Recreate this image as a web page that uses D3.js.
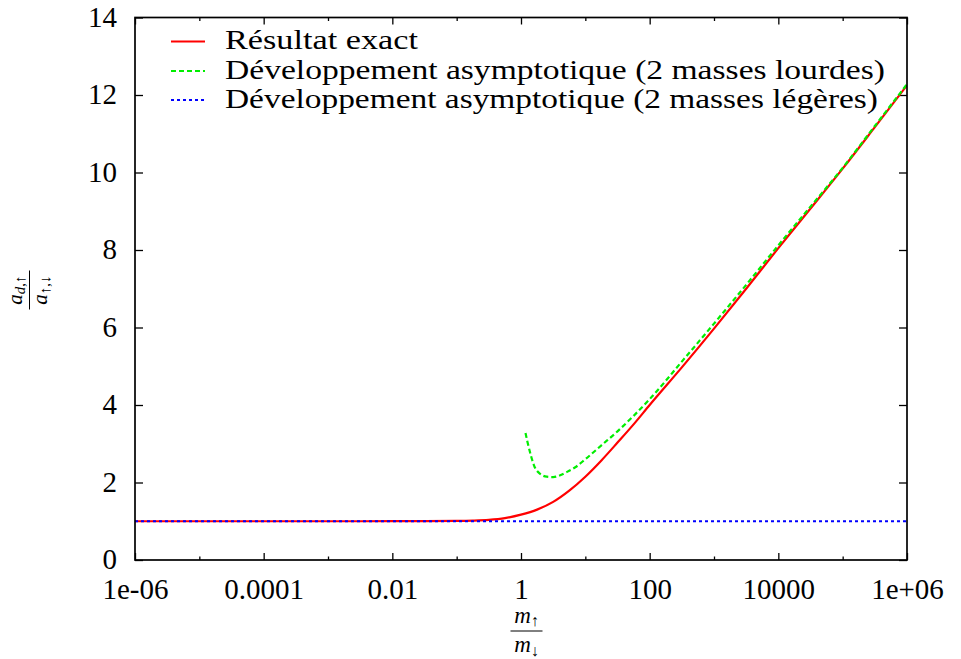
<!DOCTYPE html>
<html>
<head>
<meta charset="utf-8">
<script src="https://cdn.jsdelivr.net/npm/d3@7/dist/d3.min.js"></script>
<style>
  html, body { margin: 0; padding: 0; background: #fff; }
  svg { display: block; }
</style>
</head>
<body>
<svg id="chart" width="961" height="659"></svg>
<script>
// ---- data ----
const xMajorTicks = [1e-6, 1e-4, 1e-2, 1, 1e2, 1e4, 1e6];
const xTickLabels = ["1e-06", "0.0001", "0.01", "1", "100", "10000", "1e+06"];
const xMinorTicks = [1e-5, 1e-3, 1e-1, 1e1, 1e3, 1e5];
const yTicks = [0, 2, 4, 6, 8, 10, 12, 14];

const seriesNames = [
  "Résultat exact",
  "Développement asymptotique (2 masses lourdes)",
  "Développement asymptotique (2 masses légères)"
];

// log10 of mass ratio, and values
const exactLog = [-6, -5, -4, -3, -2, -1.5, -1, -0.75, -0.5, -0.25, 0, 0.25, 0.5, 0.75, 1, 1.25, 1.5, 1.75, 2, 2.5, 3, 3.5, 4, 4.5, 5, 5.5, 6];
const exactVal = [1, 1, 1, 1, 1.001, 1.003, 1.008, 1.016, 1.035, 1.08, 1.17, 1.3, 1.5, 1.79, 2.15, 2.57, 3.03, 3.5, 4.0, 4.97, 5.97, 7.0, 8.05, 9.07, 10.1, 11.17, 12.25];

const heavyLog = [0.07, 0.1, 0.15, 0.2, 0.3, 0.4, 0.5, 0.6, 0.7, 0.85, 1, 1.25, 1.5, 1.75, 2, 2.5, 3, 3.5, 4, 4.5, 5, 5.5, 6];
const heavyVal = [3.28, 3.05, 2.72, 2.45, 2.22, 2.15, 2.14, 2.18, 2.26, 2.4, 2.6, 2.96, 3.32, 3.72, 4.15, 5.12, 6.1, 7.1, 8.12, 9.12, 10.12, 11.2, 12.28];

const lightLog = [-6, -3, 0, 3, 6];
const lightVal = [1, 1, 1, 1, 1];

// ---- pick an installed serif font ----
const svg = d3.select("#chart");
function pickFont() {
  const cands = ["Liberation Serif", "DejaVu Serif", "Tinos", "Noto Serif", "Times New Roman", "FreeSerif", "Nimbus Roman", "Times"];
  const probe = svg.append("text").attr("x", -1000).attr("y", -1000).attr("font-size", 40)
    .text("Résultat exact mmmWWWiii 0123");
  probe.attr("font-family", "monospace");
  const base = probe.node().getComputedTextLength();
  let found = null;
  for (const c of cands) {
    probe.attr("font-family", `"${c}", monospace`);
    if (Math.abs(probe.node().getComputedTextLength() - base) > 0.5) { found = c; break; }
  }
  probe.remove();
  return found ? `"${found}", serif` : "serif";
}
const FONT = pickFont();

// ---- layout ----
const L = 135, R = 907, T = 17.5, B = 560;

const x = d3.scaleLog().domain([1e-6, 1e6]).range([L, R]);
const y = d3.scaleLinear().domain([0, 14]).range([B, T]);

const toPts = (lg, vals) => lg.map((l, i) => ({ r: Math.pow(10, l), v: vals[i] }));

svg.append("defs").append("clipPath").attr("id", "clip")
  .append("rect").attr("x", L).attr("y", T).attr("width", R - L).attr("height", B - T);

// ---- axes (inward ticks on all sides) ----
const fs = 30;
function styleAxis(g) {
  g.select(".domain").remove();
  g.attr("font-family", FONT);
  g.selectAll("line").attr("stroke", "#000").attr("stroke-width", 1.3);
}
const gxB = svg.append("g").attr("transform", `translate(0,${B})`)
  .call(d3.axisBottom(x).tickValues(xMajorTicks).tickSizeInner(-7).tickSizeOuter(0)
    .tickFormat((d, i) => xTickLabels[i]));
styleAxis(gxB);
gxB.selectAll("text").attr("y", 39).attr("dy", null).attr("font-size", 29).attr("font-family", FONT);

const gxBm = svg.append("g").attr("transform", `translate(0,${B})`)
  .call(d3.axisBottom(x).tickValues(xMinorTicks).tickSizeInner(-3.5).tickSizeOuter(0).tickFormat(""));
styleAxis(gxBm);

const gxT = svg.append("g").attr("transform", `translate(0,${T})`)
  .call(d3.axisTop(x).tickValues(xMajorTicks).tickSizeInner(-7).tickSizeOuter(0).tickFormat(""));
styleAxis(gxT);
const gxTm = svg.append("g").attr("transform", `translate(0,${T})`)
  .call(d3.axisTop(x).tickValues(xMinorTicks).tickSizeInner(-3.5).tickSizeOuter(0).tickFormat(""));
styleAxis(gxTm);

const gyL = svg.append("g").attr("transform", `translate(${L},0)`)
  .call(d3.axisLeft(y).tickValues(yTicks).tickSizeInner(-8).tickSizeOuter(0).tickFormat(d3.format("d")));
styleAxis(gyL);
gyL.selectAll("text").attr("x", -18).attr("dy", "0.3em").attr("font-size", 29).attr("font-family", FONT);

const gyR = svg.append("g").attr("transform", `translate(${R},0)`)
  .call(d3.axisRight(y).tickValues(yTicks).tickSizeInner(-8).tickSizeOuter(0).tickFormat(""));
styleAxis(gyR);

// ---- lines ----
const line = d3.line().x(d => x(d.r)).y(d => y(d.v)).curve(d3.curveMonotoneX);
const plot = svg.append("g").attr("clip-path", "url(#clip)");

const styles = [
  { color: "#ff0000", dash: null },
  { color: "#00ee00", dash: "5,3" },
  { color: "#0000ff", dash: "3,3" }
];
const data = [toPts(exactLog, exactVal), toPts(heavyLog, heavyVal), toPts(lightLog, lightVal)];

[0, 1, 2].forEach(i => {
  plot.append("path").datum(data[i])
    .attr("d", line)
    .attr("fill", "none")
    .attr("stroke", styles[i].color)
    .attr("stroke-width", 2.2)
    .attr("stroke-dasharray", styles[i].dash);
});

// ---- frame ----
svg.append("rect").attr("x", L).attr("y", T).attr("width", R - L).attr("height", B - T)
  .attr("fill", "none").attr("stroke", "#000").attr("stroke-width", 1.7);

// ---- legend ----
const legendBase = [49, 78.5, 107.5];
const legendWidths = [193, 660, 653];
seriesNames.forEach((name, i) => {
  const by = legendBase[i];
  svg.append("line").attr("x1", 171).attr("x2", 205).attr("y1", by - 7.5).attr("y2", by - 7.5)
    .attr("stroke", styles[i].color).attr("stroke-width", 2.2)
    .attr("stroke-dasharray", styles[i].dash);
  svg.append("text").attr("x", 225).attr("y", by).attr("font-size", 28).attr("font-family", FONT)
    .attr("textLength", legendWidths[i]).attr("lengthAdjust", "spacingAndGlyphs")
    .text(name);
});

// ---- axis labels (fractions) ----
const gx = svg.append("g").attr("transform", "translate(526.5,631)").attr("font-family", FONT);
(function () {
  const n = gx.append("text").attr("text-anchor", "middle").attr("y", -8);
  n.append("tspan").attr("font-style", "italic").attr("font-size", 23).text("m");
  n.append("tspan").attr("font-size", 16).attr("dy", 3).text("↑");
  gx.append("line").attr("x1", -16).attr("x2", 16).attr("y1", 0).attr("y2", 0)
    .attr("stroke", "#000").attr("stroke-width", 1);
  const d = gx.append("text").attr("text-anchor", "middle").attr("y", 21);
  d.append("tspan").attr("font-style", "italic").attr("font-size", 23).text("m");
  d.append("tspan").attr("font-size", 16).attr("dy", 4).text("↓");
})();

const gy = svg.append("g").attr("transform", "translate(29.5,290) rotate(-90)").attr("font-family", FONT);
(function () {
  const n = gy.append("text").attr("text-anchor", "middle").attr("y", -8);
  n.append("tspan").attr("font-style", "italic").attr("font-size", 21).text("a");
  n.append("tspan").attr("font-style", "italic").attr("font-size", 15).attr("dy", 3).text("d");
  n.append("tspan").attr("font-size", 15).text(",↑");
  gy.append("line").attr("x1", -19.5).attr("x2", 19.5).attr("y1", 0).attr("y2", 0)
    .attr("stroke", "#000").attr("stroke-width", 1);
  const d = gy.append("text").attr("text-anchor", "middle").attr("y", 17);
  d.append("tspan").attr("font-style", "italic").attr("font-size", 21).text("a");
  d.append("tspan").attr("font-size", 15).attr("dy", 3).text("↑,↓");
})();
</script>
</body>
</html>
